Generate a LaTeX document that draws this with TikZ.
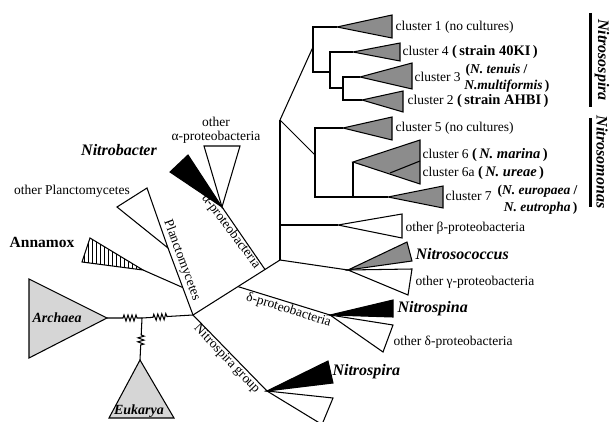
\documentclass[tikz,border=0pt]{standalone}
\usepackage{fontspec}
\setmainfont{Liberation Serif}
\usetikzlibrary{decorations.pathmorphing}
\definecolor{clgray}{gray}{0.55}
\definecolor{ltgray}{gray}{0.84}
\newcommand{\bpar}[1]{{\fontsize{14.5}{15}\selectfont\bfseries(\,#1\,)}}
\begin{document}
\begin{tikzpicture}[x=1pt,y=-1pt,line width=1.05pt,
  tri/.style={draw,line width=1.05pt,line join=miter},
  gtri/.style={tri,fill=clgray},
  ltri/.style={tri,fill=ltgray},
  btri/.style={tri,fill=black},
  wtri/.style={tri,fill=white},
  txt/.style={font=\fontsize{13.5}{15}\selectfont,inner sep=0pt,anchor=west},
  bt/.style={font=\fontsize{13.5}{15}\selectfont\bfseries,inner sep=0pt},
  bi/.style={font=\fontsize{16}{18}\selectfont\bfseries\itshape,inner sep=0pt},
  brl/.style={font=\fontsize{13.5}{14}\selectfont,inner sep=1pt},
  zz/.style={decorate,decoration={zigzag,segment length=4pt,amplitude=3pt,#1}}
]
\useasboundingbox (0,0) rectangle (612,422);
\clip (0,0) rectangle (612,422);
% tree coordinates
\coordinate (R) at (193,315);
\coordinate (J) at (280,260);
\coordinate (D) at (238,286.6);
\coordinate (A) at (265,269.5);
\coordinate (N0) at (280,120);
\coordinate (Jb) at (280,225);
\coordinate (SP) at (313,47);
\coordinate (SM) at (315,155);
\coordinate (n4) at (330,72);
\coordinate (n3) at (343,88);
\coordinate (n6) at (353,197);
\coordinate (c1) at (337,27);
\coordinate (c4) at (353,52);
\coordinate (c3) at (360,77);
\coordinate (c2) at (362,100);
\coordinate (c5) at (343,128);
\coordinate (c6) at (353,162);
\coordinate (c7) at (388,197);
\coordinate (beta) at (338,225);
\coordinate (gam) at (348,270);
\coordinate (del) at (330,315);
\coordinate (alp) at (222,207);
\coordinate (pl) at (168,248);
\coordinate (P) at (182.7,287.5);
\coordinate (an) at (143,270);
\coordinate (nsg) at (267,391);
\coordinate (ar) at (107,318);
\coordinate (jn) at (142,318);
\coordinate (eu) at (140,360);
% branches
\draw (R) -- (J);
\draw (J) -- (N0);
\draw (N0) -- (SP);
\draw (N0) -- (SM);
\draw (c1) -| (SP) |- (n4);
\draw (c4) -| (n4) |- (n3);
\draw (c3) -| (n3) |- (c2);
\draw (c5) -| (SM) |- (n6) -- (c7);
\draw (c6) -- (n6);
\draw (Jb) -- (beta);
\draw (J) -- (gam);
\draw (D) -- (del);
\draw (A) -- (alp);
\draw (R) -- (pl);
\draw (P) -- (an);
\draw (R) -- (nsg);
\draw[zz={pre length=16pt,post length=5pt}] (ar) -- (jn);
\draw[zz={pre length=11pt,post length=25pt}] (jn) -- (R);
\draw[zz={pre length=17pt,post length=14pt}] (jn) -- (eu);
% triangles
\draw[gtri] (c1) -- (392,15) -- (392,38) -- cycle;
\draw[gtri] (c4) -- (400,43) -- (400,61) -- cycle;
\draw[gtri] (c3) -- (412,63) -- (412,89) -- cycle;
\draw[gtri] (c2) -- (403,91) -- (403,112) -- cycle;
\draw[gtri] (c5) -- (392,117) -- (392,140) -- cycle;
\draw[gtri] (c6) -- (420,140) -- (420,184) -- cycle;
\draw (390,173) -- (420,161);
\draw[gtri] (c7) -- (443,186) -- (443,208) -- cycle;
\draw[wtri] (beta) -- (402,214) -- (402,238) -- cycle;
\draw[gtri] (gam) -- (407,242) -- (412,261) -- cycle;
\draw[wtri] (gam) -- (412,269) -- (408,295) -- cycle;
\draw[btri] (del) -- (393,300) -- (393,317) -- cycle;
\draw[wtri] (del) -- (393,325) -- (383,352) -- cycle;
\draw[btri] (alp) -- (170,172) -- (188,155) -- cycle;
\draw[wtri] (alp) -- (204,146) -- (240,146) -- cycle;
\draw[wtri] (pl) -- (147,188) -- (117,207) -- cycle;
\begin{scope}
  \clip (an) -- (90,238) -- (82,262) -- cycle;
  \foreach \x in {84,88,...,144} \draw[line width=0.8pt] (\x,230) -- (\x,275);
\end{scope}
\draw[tri] (an) -- (90,238) -- (82,262) -- cycle;
\draw[btri] (nsg) -- (328,361) -- (333,383) -- cycle;
\draw[wtri] (nsg) -- (333,398) -- (322,424.5) -- cycle;
\draw[ltri] (ar) -- (29,279) -- (29,358) -- cycle;
\draw[ltri] (eu) -- (109,418) -- (174,418) -- cycle;
% labels
\node[txt] (l1) at (395,27) {cluster 1 (no cultures)};
\node[txt] (l4) at (402,52) {cluster 4 \bpar{strain 40KI}};
\node[txt] (l3) at (414,77) {cluster 3};
\node[txt,bt,anchor=west] (l3a) at (465,70) {(\textit{N. tenuis} /};
\node[txt,bt,anchor=east] (l3b) at (550,86) {\textit{N.multiformis}\,)};
\node[txt] (l2) at (407,101) {cluster 2 \bpar{strain AHBI}};
\node[txt] (l5) at (395,128) {cluster 5 (no cultures)};
\node[txt] (l6) at (422,155) {cluster 6 \bpar{\textit{N. marina}}};
\node[txt] (l6a) at (422,173) {cluster 6a \bpar{\textit{N. ureae}}};
\node[txt] (l7) at (445,196) {cluster 7};
\node[txt,bt,anchor=east] (l7a) at (578,191) {(\textit{N. europaea} /};
\node[txt,bt,anchor=east] (l7b) at (578,208) {\textit{N. eutropha}\,)};
\node[txt] (lb) at (405,228) {other β-proteobacteria};
\node[bi,anchor=west] (lnc) at (415,254) {Nitrosococcus};
\node[txt] (lg) at (415,282) {other γ-proteobacteria};
\node[bi,anchor=west] (lns) at (397,309) {Nitrospina};
\node[txt] (ld) at (393,342) {other δ-proteobacteria};
\node[bi,anchor=west] (lnsp) at (332,372) {Nitrospira};
\node[font=\fontsize{15.5}{17}\selectfont\bfseries,inner sep=0pt] (lan) at (42,242) {Annamox};
\node[txt,anchor=center] (lop) at (72,191) {other Planctomycetes};
\node[bi] (lnb) at (119,150) {Nitrobacter};
\node[brl,align=center] (loa) at (216,130) {other\\α-proteobacteria};
\node[bi,font=\fontsize{14}{16}\selectfont\bfseries\itshape] (lar) at (57,318) {Archaea};
\node[bi,font=\fontsize{14}{16}\selectfont\bfseries\itshape] (leu) at (139,411) {Eukarya};
\node[brl,rotate=-69.8,anchor=south] (lpl) at (174.6,263) {Planctomycetes};
\node[brl,rotate=-53.1,anchor=north] (lal) at (237,227) {α-proteobacteria};
\node[brl,rotate=-17.5,anchor=north] (lde) at (291,303) {δ-proteobacteria};
\node[brl,rotate=-46.5,anchor=north] (lng) at (232,354) {Nitrospira group};
% group bars
\draw[line width=3pt] (590,13) -- (590,107);
\draw[line width=3pt] (590,118) -- (590,207);
\node[bi,rotate=-90] (lsp) at (602,60) {Nitrosospira};
\node[bi,rotate=-90] (lsm) at (602,162) {Nitrosomonas};
\end{tikzpicture}
\end{document}
